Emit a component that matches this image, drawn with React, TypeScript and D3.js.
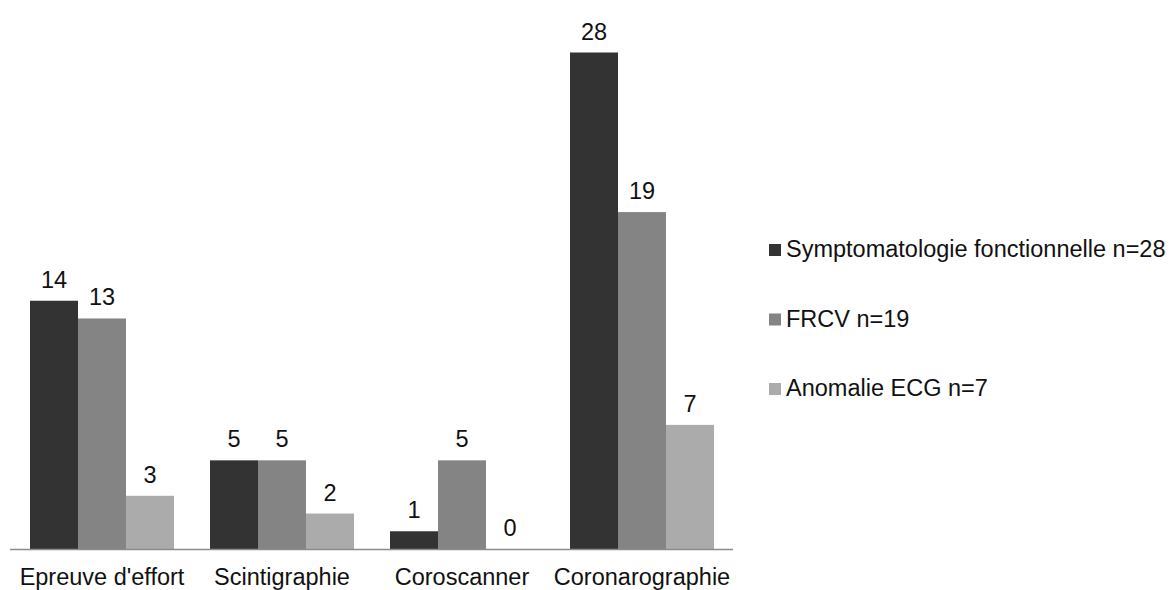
import React from "react";
import * as d3 from "d3";

const categories = ["Epreuve d'effort", "Scintigraphie", "Coroscanner", "Coronarographie"];
const seriesNames = ["Symptomatologie fonctionnelle n=28", "FRCV n=19", "Anomalie ECG n=7"];
const symptomatologie = [14, 5, 1, 28];
const frcv = [13, 5, 5, 19];
const anomalieEcg = [3, 2, 0, 7];
const seriesValues = [symptomatologie, frcv, anomalieEcg];
const colors = ["#333333", "#848484", "#ababab"];

const W = 1169;
const H = 590;
const FONT = "'Liberation Sans', Arial, sans-serif";

export default function App() {
  const baseline = 549;
  const x = d3.scaleBand<string>().domain(categories).range([12, 732]).paddingInner(0.2).paddingOuter(0.1);
  const inner = d3.scaleBand<string>().domain(seriesNames).range([0, x.bandwidth()]);
  const y = d3.scaleLinear().domain([0, 28]).range([baseline, 52.5]);

  return (
    <svg width={W} height={H} style={{ position: "absolute", left: 0, top: 0, background: "#fff" }}>
      <rect x={0} y={0} width={W} height={H} fill="#fff" />
      {seriesValues.map((vals, si) =>
        categories.map((c, ci) => {
          const bx = (x(c) ?? 0) + (inner(seriesNames[si]) ?? 0);
          const v = vals[ci];
          return (
            <g key={`${si}-${ci}`}>
              <rect x={bx} y={y(v)} width={inner.bandwidth()} height={baseline - y(v)} fill={colors[si]} />
              <text
                x={bx + inner.bandwidth() / 2}
                y={y(v) - 13}
                textAnchor="middle"
                fontFamily={FONT}
                fontSize={23.5}
                fill="#111"
              >
                {v}
              </text>
            </g>
          );
        })
      )}
      <line x1={10} x2={733} y1={baseline + 0.5} y2={baseline + 0.5} stroke="#8c8c8c" strokeWidth={1.5} />
      {categories.map((c) => (
        <text
          key={c}
          x={(x(c) ?? 0) + x.bandwidth() / 2}
          y={584.5}
          textAnchor="middle"
          fontFamily={FONT}
          fontSize={23.5}
          fill="#111"
        >
          {c}
        </text>
      ))}
      {seriesNames.map((s, i) => (
        <g key={s} transform={`translate(769, ${257 + i * 69.5})`}>
          <rect x={0} y={-13} width={12} height={12} fill={colors[i]} />
          <text x={17} y={0} fontFamily={FONT} fontSize={23.5} fill="#111">
            {s}
          </text>
        </g>
      ))}
    </svg>
  );
}
